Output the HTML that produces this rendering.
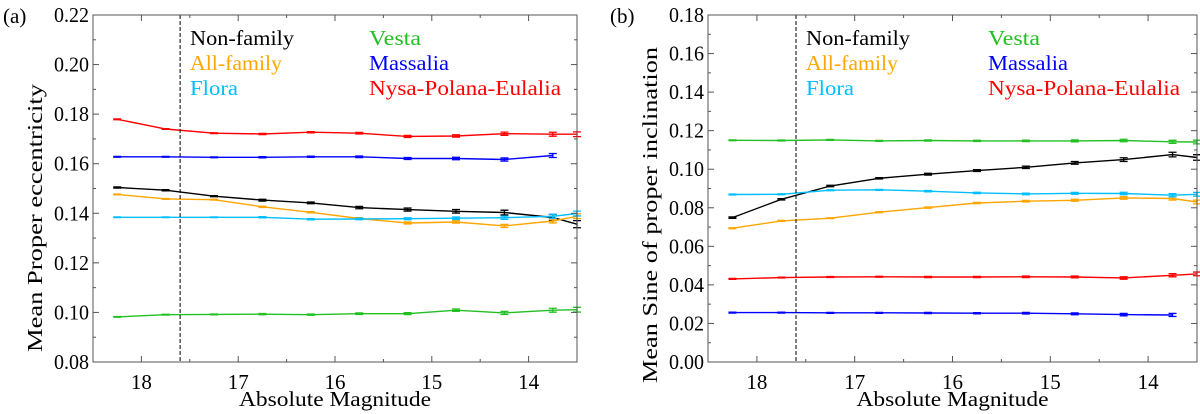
<!DOCTYPE html>
<html><head><meta charset="utf-8"><style>
body{margin:0;background:#fff;}
svg{display:block;font-family:"Liberation Serif",serif;}
</style></head><body>
<svg id="chart" width="1200" height="414" viewBox="0 0 1200 414"></svg>
<script>
const mags=[18.25,17.75,17.25,16.75,16.25,15.75,15.25,14.75,14.25,13.75,13.5];
const seriesNames=["Non-family","All-family","Flora","Vesta","Massalia","Nysa-Polana-Eulalia"];
const seriesColors=["#000000","#ffa500","#00bfff","#22c022","#0000ff","#ff0000"];
// Panel (a): mean proper eccentricity
const aNon=[0.1504,0.1493,0.1469,0.1453,0.1442,0.1423,0.1415,0.1408,0.1403,0.1383,0.1356];
const aAll=[0.1476,0.1458,0.1455,0.1426,0.1404,0.1379,0.1361,0.1365,0.1349,0.1369,0.1388];
const aFlora=[0.1384,0.1384,0.1384,0.1384,0.1376,0.1377,0.1378,0.1380,0.1382,0.1388,0.1399];
const aVesta=[0.0982,0.0991,0.0992,0.0993,0.0991,0.0995,0.0995,0.1009,0.0998,0.1009,0.1011];
const aMassalia=[0.1628,0.1628,0.1626,0.1626,0.1628,0.1628,0.1621,0.1621,0.1617,0.1633,null];
const aNysa=[0.1779,0.1740,0.1723,0.1720,0.1727,0.1723,0.1710,0.1712,0.1721,0.1719,0.1719];
const aErr=[0.0002,0.0002,0.0002,0.0003,0.0003,0.0004,0.0005,0.0006,0.0008,0.0010,0.0012];
const aTicks=[0.08,0.10,0.12,0.14,0.16,0.18,0.20,0.22];
// Panel (b): mean sine of proper inclination
const bNon=[0.0749,0.0844,0.0913,0.0953,0.0974,0.0993,0.1010,0.1033,0.1050,0.1076,0.1061];
const bAll=[0.0694,0.0732,0.0746,0.0777,0.0801,0.0825,0.0834,0.0839,0.0851,0.0848,0.0830];
const bFlora=[0.0869,0.0870,0.0891,0.0893,0.0886,0.0877,0.0872,0.0875,0.0874,0.0865,0.0870];
const bVesta=[0.1150,0.1149,0.1152,0.1147,0.1149,0.1147,0.1147,0.1147,0.1149,0.1142,0.1141];
const bMassalia=[0.0256,0.0256,0.0255,0.0255,0.0254,0.0253,0.0253,0.0250,0.0246,0.0244,null];
const bNysa=[0.0431,0.0438,0.0441,0.0442,0.0441,0.0441,0.0442,0.0441,0.0436,0.0450,0.0457];
const bErr=[0.0003,0.0003,0.0003,0.0003,0.0004,0.0004,0.0005,0.0006,0.0008,0.0010,0.0012];
const bTicks=[0.00,0.02,0.04,0.06,0.08,0.10,0.12,0.14,0.16,0.18];
const xTicks=[18,17,16,15,14];
const cutMag=17.6;

const NS="http://www.w3.org/2000/svg";
const svg=document.getElementById("chart");
function mk(tag,attrs,parent){const e=document.createElementNS(NS,tag);for(const k in attrs)e.setAttribute(k,attrs[k]);(parent||svg).appendChild(e);return e;}

function panel(cfg){
  const g=mk("g",{});
  
  
  const L=cfg.left,R=cfg.right,T=15,B=362;
  const xs=m=>L+(18.5-m)/(18.5-13.5)*(R-L);
  const ys=v=>B-(v-cfg.ymin)/(cfg.ymax-cfg.ymin)*(B-T);
  cfg.series.forEach((arr,si)=>{
    const col=seriesColors[si];
    let d="";
    arr.forEach((v,i)=>{if(v===null)return;d+=(d?"L":"M")+xs(mags[i]).toFixed(1)+","+ys(v).toFixed(1);});
    const p=mk("path",{d:d,fill:"none",stroke:col,"stroke-width":1.4},g);
    
    
    arr.forEach((v,i)=>{if(v===null)return;
      const x=xs(mags[i]),e=cfg.err[i]*(si===0?1.2:0.8);
      const y1=ys(v+e),y2=ys(v-e);
      const eb=mk("path",{d:`M${x-4},${y1}H${x+4}M${x},${y1}V${y2}M${x-4},${y2}H${x+4}`,stroke:col,"stroke-width":1.3,fill:"none"},g);
      
      
    });
  });
  const dl=mk("line",{x1:xs(cutMag),x2:xs(cutMag),y1:T,y2:B,stroke:"#000","stroke-width":1,"stroke-dasharray":"4,2"},g);
  
  
  const fr=mk("rect",{x:L,y:T,width:R-L,height:B-T,fill:"none",stroke:"#555","stroke-width":1},g);
  
  
  cfg.ticks.forEach(t=>{const y=ys(t);
    mk("line",{x1:L,x2:L+6,y1:y,y2:y,stroke:"#555"},g);mk("line",{x1:R,x2:R-6,y1:y,y2:y,stroke:"#555"},g);
    const tx=mk("text",{x:L-4,y:y+7,"text-anchor":"end","font-size":21,fill:"#000",textLength:35,lengthAdjust:"spacingAndGlyphs"},g);tx.textContent=t.toFixed(2);
    
    
  });
  for(let i=0;i<cfg.ticks.length-1;i++){const y=ys((cfg.ticks[i]+cfg.ticks[i+1])/2);
    mk("line",{x1:L,x2:L+3,y1:y,y2:y,stroke:"#555"},g);mk("line",{x1:R,x2:R-3,y1:y,y2:y,stroke:"#555"},g);}
  xTicks.forEach(t=>{const x=xs(t);
    mk("line",{x1:x,x2:x,y1:B,y2:B-6,stroke:"#555"},g);mk("line",{x1:x,x2:x,y1:T,y2:T+6,stroke:"#555"},g);
    const tx=mk("text",{x:x,y:B+27,"text-anchor":"middle","font-size":21,fill:"#000"},g);tx.textContent=t;
    
    
  });
  for(let m=18.5;m>=13.5;m-=0.5){if(Number.isInteger(m))continue;const x=xs(m);
    mk("line",{x1:x,x2:x,y1:B,y2:B-3,stroke:"#555"},g);mk("line",{x1:x,x2:x,y1:T,y2:T+3,stroke:"#555"},g);}
  const xt=mk("text",{x:(L+R)/2,y:406,"text-anchor":"middle","font-size":21,fill:"#000",textLength:192,lengthAdjust:"spacingAndGlyphs"},g);xt.textContent="Absolute Magnitude";
  
  
  const yt=mk("text",{x:0,y:0,"text-anchor":"middle","font-size":21,fill:"#000",textLength:cfg.ylen,lengthAdjust:"spacingAndGlyphs",transform:`translate(${cfg.ytx},${cfg.ytc}) rotate(-90)`},g);yt.textContent=cfg.ytitle;
  
  
  const lb=mk("text",{x:cfg.labx,y:23,"font-size":21,fill:"#000"},g);lb.textContent=cfg.label;
  
  
  const legLens=[104,92,48,52,80,192];
  seriesNames.forEach((n,i)=>{
    const col=Math.floor(i/3),row=i%3;
    const t=mk("text",{x:col?cfg.leg2:cfg.leg1,y:45+row*25,"font-size":21,fill:seriesColors[i],textLength:legLens[i],lengthAdjust:"spacingAndGlyphs"},g);t.textContent=n;
    
    
  });
}
panel({name:"panel-a-eccentricity",left:93,right:577,ymin:0.08,ymax:0.22,ticks:aTicks,err:aErr,
  series:[aNon,aAll,aFlora,aVesta,aMassalia,aNysa],ytitle:"Mean Proper eccentricity",ytx:42,ytc:218,ylen:268,label:"(a)",labx:3,leg1:190,leg2:369});
panel({name:"panel-b-inclination",left:708,right:1197,ymin:0,ymax:0.18,ticks:bTicks,err:bErr,
  series:[bNon,bAll,bFlora,bVesta,bMassalia,bNysa],ytitle:"Mean Sine of proper inclination",ytx:657,ytc:215,ylen:336,label:"(b)",labx:610,leg1:806,leg2:988});
</script>
</body></html>
